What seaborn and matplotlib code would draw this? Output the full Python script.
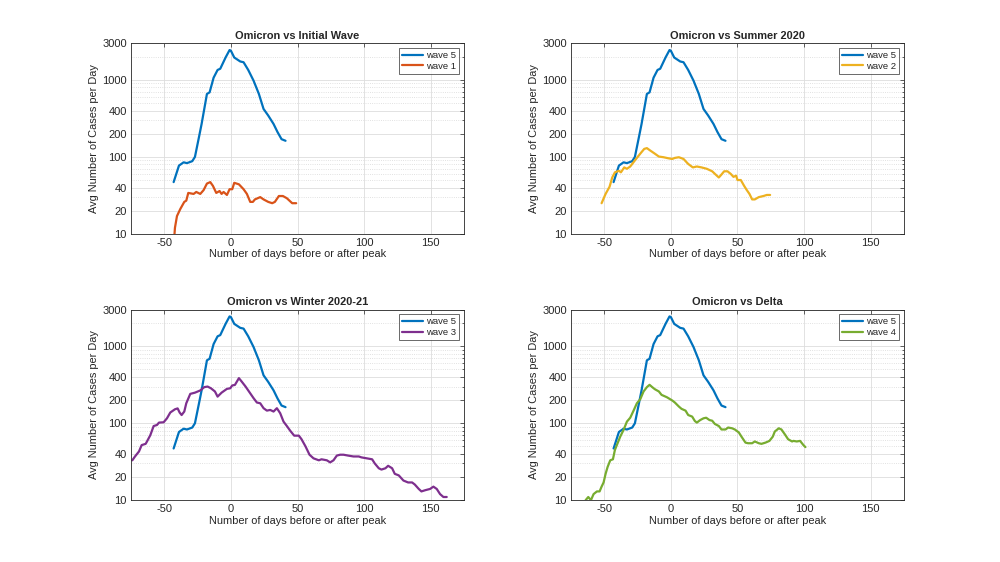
import pandas as pd
import matplotlib
matplotlib.use("Agg")
import matplotlib.pyplot as plt
import matplotlib.ticker as mticker
import seaborn as sns

# -----------------------------
# DATA
# -----------------------------

wave5_days = [-43, -39, -35.5, -33, -29, -27, -24, -22, -18, -16, -13, -10, -8, -4, -1, 0,
              2.5, 7, 9.5, 13, 17, 21, 24.5, 28, 32, 35, 38, 41]
wave5_cases = [47, 77, 85, 83, 88, 100, 180, 268, 658, 690, 1070, 1350, 1400, 1960, 2450, 2400,
               1960, 1740, 1700, 1350, 980, 658, 420, 345, 268, 210, 170, 162]

wave1_days = [-43, -42, -40.5, -38, -35, -33.5, -32, -28, -26, -23, -20.5, -18, -15.5, -13.5,
              -11, -8.5, -7, -5.5, -3, -1, 1, 2.5, 6, 9.5, 12, 14.5, 16.5, 18, 22, 24.5, 28,
              31, 33, 36, 39, 42, 46, 49]
wave1_cases = [7, 12, 17, 21, 26, 27, 34, 33, 35, 33, 37, 45, 47, 42,
               34, 36, 33, 35, 32, 38, 38, 46, 44, 38, 33, 26, 26, 28, 30, 28, 26,
               25, 26, 31, 31, 29, 25, 25]

wave2_days = [-52, -49, -46, -44, -42, -39, -37.5, -35, -33, -30.5, -27, -23, -20, -18, -15.5,
              -12, -9, -5.5, -2, 1, 3, 6, 9.5, 13, 16.5, 19.5, 23, 27, 31, 34.5, 36, 38, 40,
              42.5, 45, 47, 49, 50, 52.5, 55, 57, 59, 61, 63, 66, 69.5, 72, 74.5]
wave2_cases = [25, 33, 41, 54, 63, 66, 63, 73, 70, 75, 90, 110, 127, 130, 121,
               110, 101, 99, 96, 94, 97, 99, 94, 81, 73, 75, 73, 70, 65, 57, 54, 59, 65,
               65, 60, 55, 57, 50, 50, 42, 37, 33, 28, 28, 30, 31, 32, 32]

wave3_days = [-74, -72, -69, -67, -64, -63, -60.5, -58, -55.5, -54, -50.5, -48, -45.5, -42, -40,
              -38.5, -37, -35, -33.5, -30.5, -27, -23, -20, -17.5, -15, -12, -10, -7, -3, -0.5,
              1, 3, 6, 8, 11, 14.5, 17, 19.5, 22, 24.5, 27, 29.5, 32, 34.5, 37, 39.5, 42, 44.5,
              47.5, 51, 53, 56, 59, 62, 66, 68, 72, 74.5, 77, 79.5, 82, 84.5, 88, 92, 96, 98,
              102, 106, 108, 111, 113, 116, 118, 121, 123, 126, 129.5, 133, 136, 138, 141, 143,
              146, 149.5, 152, 154.5, 157, 159.5, 162]
wave3_cases = [33, 37, 43, 52, 54, 58, 70, 92, 95, 102, 103, 116, 138, 152, 156,
               138, 128, 142, 182, 241, 250, 267, 295, 300, 285, 259, 222, 250, 280, 285,
               310, 315, 386, 350, 300, 245, 212, 186, 182, 157, 146, 149, 142, 157, 135, 105, 92, 80,
               69, 69, 62, 50, 39, 35, 33, 34, 33, 31, 33, 38, 39, 39, 38, 37, 37, 36,
               35, 34, 30, 26, 25, 26, 28, 26, 22, 21, 18, 17, 17, 16, 14, 13,
               13.5, 14, 15, 14, 12, 11, 11]

wave4_days = [-64, -62, -60, -58, -55.5, -53.5, -52, -50.5, -49, -47.5, -45.5, -43.5, -42, -40,
              -38, -35.5, -33, -30.5, -28, -25.5, -23, -20.5, -18, -16, -14, -12, -9, -7, -3,
              1, 3, 6, 8, 11, 13, 16, 18, 19.5, 22, 24.5, 26.5, 29, 31, 33, 36, 38, 41, 43, 46,
              48, 51, 53, 56, 58, 61, 63, 66, 68, 71, 74, 76.5, 78, 81, 83, 86, 88, 91, 92,
              94.5, 97, 99.5, 101]
wave4_cases = [10, 11, 10, 12, 13, 13, 15, 17, 22, 27, 33, 34, 45, 55,
               67, 82, 105, 118, 146, 182, 205, 259, 295, 316, 295, 277, 259, 234, 218,
               198, 186, 165, 154, 146, 128, 122, 107, 102, 110, 116, 118, 110, 108, 98, 92, 83, 83, 88, 86,
               83, 76, 67, 56, 55, 55, 58, 55, 54, 56, 59, 67, 78, 86, 83, 70, 62, 58, 59,
               58, 59, 52, 49]

titles = ["Omicron vs Initial Wave", "Omicron vs Summer 2020",
          "Omicron vs Winter 2020-21", "Omicron vs Delta"]
other_labels = ["wave 1", "wave 2", "wave 3", "wave 4"]
other_days = [wave1_days, wave2_days, wave3_days, wave4_days]
other_cases = [wave1_cases, wave2_cases, wave3_cases, wave4_cases]
other_colors = ["#D95319", "#EDB120", "#7E2F8E", "#77AC30"]
blue = "#0072BD"

y_ticks = [10, 20, 40, 100, 200, 400, 1000, 3000]
x_ticks = [-50, 0, 50, 100, 150]

# -----------------------------
# STYLE
# -----------------------------

sns.set_style("white")
plt.rcParams['font.family'] = ['Liberation Sans', 'DejaVu Sans']
plt.rcParams['axes.unicode_minus'] = False

fig, axes = plt.subplots(2, 2, figsize=(10, 5.62), dpi=100)
fig.subplots_adjust(left=0.131, right=0.904, bottom=0.110, top=0.923,
                    wspace=0.321, hspace=0.398)

for i, ax in enumerate(axes.flat):
    df = pd.concat([
        pd.DataFrame({"day": wave5_days, "cases": wave5_cases, "wave": "wave 5"}),
        pd.DataFrame({"day": other_days[i], "cases": other_cases[i], "wave": other_labels[i]}),
    ])
    sns.lineplot(data=df, x="day", y="cases", hue="wave",
                 palette={"wave 5": blue, other_labels[i]: other_colors[i]},
                 linewidth=1.6, sort=False, ax=ax)

    ax.set_yscale("log")
    ax.set_xlim(-75, 175)
    ax.set_ylim(10, 3000)
    ax.set_yticks(y_ticks)
    ax.yaxis.set_major_formatter(mticker.FixedFormatter([str(t) for t in y_ticks]))
    ax.yaxis.set_minor_locator(mticker.LogLocator(base=10, subs=range(1, 10), numticks=20))
    ax.yaxis.set_minor_formatter(mticker.NullFormatter())
    ax.set_xticks(x_ticks)

    ax.grid(True, which="major", color="#dddddd", linewidth=0.6, linestyle="-")
    ax.grid(True, which="minor", axis="y", color="#d8d8d8", linewidth=0.6, linestyle=":")
    ax.set_axisbelow(True)

    ax.tick_params(which="both", direction="in", labelsize=8, colors="#262626",
                   top=True, right=True, pad=3)
    ax.tick_params(which="major", length=3, width=0.5)
    ax.tick_params(which="minor", length=1.5, width=0.5)
    for s in ax.spines.values():
        s.set_color("#262626")
        s.set_linewidth(0.6)

    ax.set_title(titles[i], fontsize=7.9, fontweight="bold", pad=3)
    ax.set_xlabel("Number of days before or after peak", fontsize=7.9, labelpad=1)
    ax.set_ylabel("Avg Number of Cases per Day", fontsize=7.9, labelpad=2)

    leg = ax.legend(loc="upper right", fontsize=6.8, frameon=True, fancybox=False,
                    handlelength=2.2, borderaxespad=0.5, borderpad=0.3,
                    labelspacing=0.2, handletextpad=0.4)
    leg.get_frame().set_edgecolor("#262626")
    leg.get_frame().set_linewidth(0.6)

plt.savefig("out.png", dpi=100)
